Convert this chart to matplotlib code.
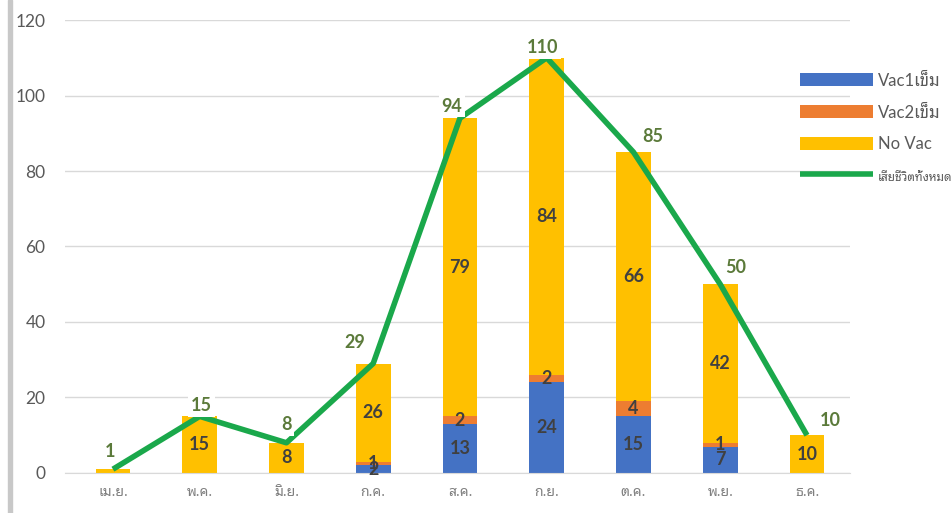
import matplotlib
matplotlib.use('Agg')
import matplotlib.pyplot as plt
from matplotlib.patches import Rectangle
import numpy as np

plt.rcParams['font.family'] = ['Lato', 'Noto Sans Thai Looped', 'DejaVu Sans']

months = ["เม.ย.", "พ.ค.", "มิ.ย.", "ก.ค.", "ส.ค.", "ก.ย.", "ต.ค.", "พ.ย.", "ธ.ค."]
vac1 = [0, 0, 0, 2, 13, 24, 15, 7, 0]
vac2 = [0, 0, 0, 1, 2, 2, 4, 1, 0]
no_vac = [1, 15, 8, 26, 79, 84, 66, 42, 10]
total = [1, 15, 8, 29, 94, 110, 85, 50, 10]

# label offsets (pixels) for the total line labels, as in the reference
total_offsets = [(-3, 18), (2, 11), (0, 18), (-18, 21), (-8, 12),
                 (-4, 10), (19, 16), (15, 17), (23, 15)]

C_VAC1 = "#4472C4"
C_VAC2 = "#ED7D31"
C_NOVAC = "#FFC000"
C_LINE = "#1AA84B"
C_TOTAL_LBL = "#5B7A3A"
C_BAR_LBL = "#404040"

fig = plt.figure(figsize=(9.51, 5.13), dpi=100)
ax = fig.add_axes([0.0683, 0.078, 0.8255, 0.883])

# grey border on the left edge
fig.patches.append(Rectangle((0.008, 0), 0.005, 1, transform=fig.transFigure,
                             color="#C8C8C8", zorder=0))

x = np.arange(len(months))
w = 0.40
v1 = np.array(vac1)
v2 = np.array(vac2)
nv = np.array(no_vac)
b1 = ax.bar(x, v1, w, color=C_VAC1, label="Vac1เข็ม", zorder=2)
b2 = ax.bar(x, v2, w, bottom=v1, color=C_VAC2, label="Vac2เข็ม", zorder=2)
b3 = ax.bar(x, nv, w, bottom=v1 + v2, color=C_NOVAC, label="No Vac", zorder=2)

# segment labels (the one-death April bar is too thin to carry one)
for vals, bottoms in ((v1, np.zeros_like(v1)), (v2, v1), (nv, v1 + v2)):
    for i, (v, b) in enumerate(zip(vals, bottoms)):
        if v == 0 or total[i] <= 1:
            continue
        ax.text(i, b + v / 2, str(v), ha="center", va="center", fontsize=13,
                fontweight="bold", color=C_BAR_LBL, zorder=4)

ln, = ax.plot(x, total, color=C_LINE, lw=4, solid_capstyle="butt",
              label="เสียชีวิตทั้งหมด", zorder=3)

for i, t in enumerate(total):
    dx, dy = total_offsets[i]
    ax.annotate(str(t), (i, t), xytext=(dx, dy), textcoords="offset pixels",
                ha="center", va="center", fontsize=13, fontweight="bold",
                color=C_TOTAL_LBL, zorder=5,
                bbox=dict(boxstyle="square,pad=0.15", fc="white", ec="none"))

ax.set_xlim(-0.553, 8.496)
ax.set_ylim(0, 120)
ax.set_yticks(range(0, 121, 20))
ax.yaxis.grid(True, color="#D9D9D9", lw=1)
ax.set_axisbelow(True)
ax.tick_params(axis="y", length=0, pad=14, labelsize=12.5, labelcolor="#595959")
ax.set_xticks(x)
ax.set_xticklabels(months, fontsize=10, color="#7F7F7F",
                   family=["Noto Sans Thai Looped", "DejaVu Sans"])
ax.tick_params(axis="x", length=0, pad=9)
for s in ("top", "right", "left"):
    ax.spines[s].set_visible(False)
ax.spines["bottom"].set_color("#D9D9D9")

leg = fig.legend(handles=[b1, b2, b3, ln], loc="upper left",
                 bbox_to_anchor=(0.832, 0.875), frameon=False, fontsize=12,
                 handlelength=4.4, handleheight=0.85, handletextpad=0.3,
                 labelspacing=0.95, borderpad=0)
texts = leg.get_texts()
for t in texts:
    t.set_color("#595959")
texts[3].set_fontsize(8.5)

fig.savefig("out.png", dpi=100)
